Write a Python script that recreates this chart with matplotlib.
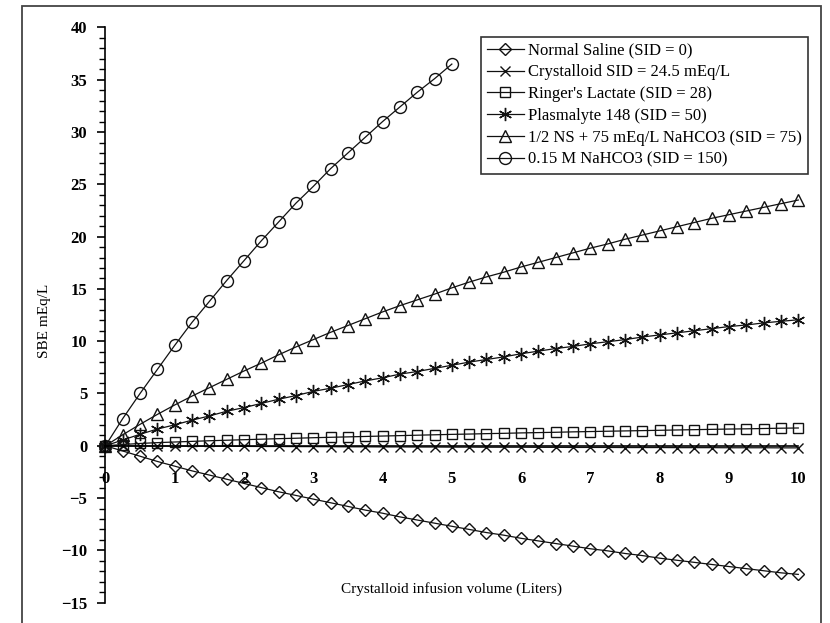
import numpy as np
import matplotlib
matplotlib.use('Agg')
import matplotlib.pyplot as plt
from matplotlib.ticker import MultipleLocator
from matplotlib.patches import Rectangle

plt.rcParams['font.family'] = ['Liberation Serif', 'DejaVu Serif']

# infusion volume grid (L)
volume = np.arange(0, 10.01, 0.25)
volume_bicarb = volume[:21]

normal_saline = [0, -0.5, -1.0, -1.5, -1.95, -2.4, -2.8, -3.2, -3.6, -4.0, -4.4,
                 -4.75, -5.1, -5.45, -5.8, -6.15, -6.45, -6.8, -7.1, -7.4, -7.7,
                 -8.0, -8.3, -8.55, -8.85, -9.1, -9.35, -9.6, -9.85, -10.05, -10.3,
                 -10.5, -10.75, -10.95, -11.15, -11.35, -11.55, -11.75, -11.95, -12.15, -12.3]
crystalloid = [0, -0.01, -0.02, -0.02, -0.03, -0.04, -0.05, -0.05, -0.06, -0.07, -0.07,
               -0.08, -0.08, -0.09, -0.1, -0.1, -0.11, -0.11, -0.12, -0.12, -0.13,
               -0.13, -0.14, -0.14, -0.14, -0.15, -0.15, -0.16, -0.16, -0.16, -0.17,
               -0.17, -0.17, -0.18, -0.18, -0.18, -0.19, -0.19, -0.19, -0.2, -0.2]
ringers = [0, 0.12, 0.22, 0.3, 0.36, 0.42, 0.48, 0.53, 0.58, 0.63, 0.68,
           0.72, 0.77, 0.81, 0.85, 0.89, 0.93, 0.97, 1.01, 1.05, 1.09,
           1.12, 1.16, 1.19, 1.23, 1.26, 1.29, 1.33, 1.36, 1.39, 1.42,
           1.45, 1.48, 1.51, 1.54, 1.57, 1.6, 1.62, 1.65, 1.68, 1.7]
plasmalyte = [0, 0.55, 1.1, 1.6, 2.0, 2.45, 2.85, 3.3, 3.65, 4.05, 4.45,
              4.8, 5.2, 5.5, 5.85, 6.2, 6.5, 6.85, 7.1, 7.4, 7.7,
              8.0, 8.25, 8.5, 8.8, 9.05, 9.3, 9.5, 9.75, 9.95, 10.15,
              10.4, 10.6, 10.8, 11.0, 11.2, 11.4, 11.55, 11.75, 11.9, 12.05]
half_ns_bicarb = [0, 1.05, 2.05, 3.0, 3.9, 4.75, 5.55, 6.35, 7.15, 7.9, 8.7,
                  9.45, 10.15, 10.85, 11.5, 12.15, 12.8, 13.4, 13.95, 14.5, 15.1,
                  15.65, 16.15, 16.6, 17.1, 17.55, 18.0, 18.45, 18.9, 19.3, 19.75,
                  20.15, 20.55, 20.95, 21.35, 21.75, 22.1, 22.45, 22.8, 23.15, 23.5]
bicarb_015 = [0, 2.6, 5.0, 7.3, 9.6, 11.8, 13.8, 15.8, 17.7, 19.6, 21.4,
              23.2, 24.8, 26.5, 28.0, 29.5, 31.0, 32.4, 33.8, 35.1, 36.5]

labels = ['Normal Saline (SID = 0)',
          'Crystalloid SID = 24.5 mEq/L',
          "Ringer's Lactate (SID = 28)",
          'Plasmalyte 148 (SID = 50)',
          '1/2 NS + 75 mEq/L NaHCO3 (SID = 75)',
          '0.15 M NaHCO3 (SID = 150)']

fig = plt.figure(figsize=(8.3, 6.23), dpi=100)
ax = fig.add_axes([0.127, 0.0327, 0.8348, 0.9232])

series = [(volume, normal_saline, 'D', 5.8),
          (volume, crystalloid, 'x', 7.5),
          (volume, ringers, 's', 7.8),
          (volume, plasmalyte, (6, 2, 0), 9.5),
          (volume, half_ns_bicarb, '^', 8.0),
          (volume_bicarb, bicarb_015, 'o', 8.6)]
for (xs, ys, mk, ms), lab in zip(series, labels):
    ax.plot(xs, ys, color='#111111', lw=0.9, marker=mk, ms=ms, mfc='none',
            mec='#111111', mew=1.0, clip_on=False, label=lab)

ax.set_xlim(0, 10)
ax.set_ylim(-15, 40)
ax.spines['top'].set_visible(False)
ax.spines['right'].set_visible(False)
ax.spines['bottom'].set_position(('data', 0))
ax.spines['left'].set_linewidth(1.2)
ax.spines['bottom'].set_linewidth(1.2)

ax.xaxis.set_major_locator(MultipleLocator(1))
ax.yaxis.set_major_locator(MultipleLocator(5))
ax.yaxis.set_minor_locator(MultipleLocator(1))
ax.tick_params(axis='x', length=0, pad=18, labelsize=12)
ax.tick_params(axis='y', which='major', direction='out', length=6, width=1.2,
               pad=7, labelsize=12)
ax.tick_params(axis='y', which='minor', direction='out', length=4, width=1.0)
for t in ax.get_xticklabels() + ax.get_yticklabels():
    t.set_fontweight('bold')

ax.set_ylabel('SBE mEq/L', fontsize=11)
ax.yaxis.set_label_coords(-0.078, 0.49)
ax.set_xlabel('Crystalloid infusion volume (Liters)', fontsize=11)
ax.xaxis.set_label_coords(0.5, 0.036)

leg = ax.legend(loc='upper left', bbox_to_anchor=(481 / 830, 1 - 36.7 / 623),
                bbox_transform=fig.transFigure, borderaxespad=0, fontsize=12,
                numpoints=1, handlelength=2.2, handletextpad=0.3,
                labelspacing=0.35, borderpad=0.35, fancybox=False)
leg.get_frame().set_edgecolor('black')
leg.get_frame().set_linewidth(1.2)

fig.add_artist(Rectangle((22 / 830, -0.01), (821 - 22) / 830, 1.01 - 6 / 623,
                         transform=fig.transFigure, fill=False,
                         ec='#444444', lw=1.3))

fig.savefig('out.png', dpi=100)
